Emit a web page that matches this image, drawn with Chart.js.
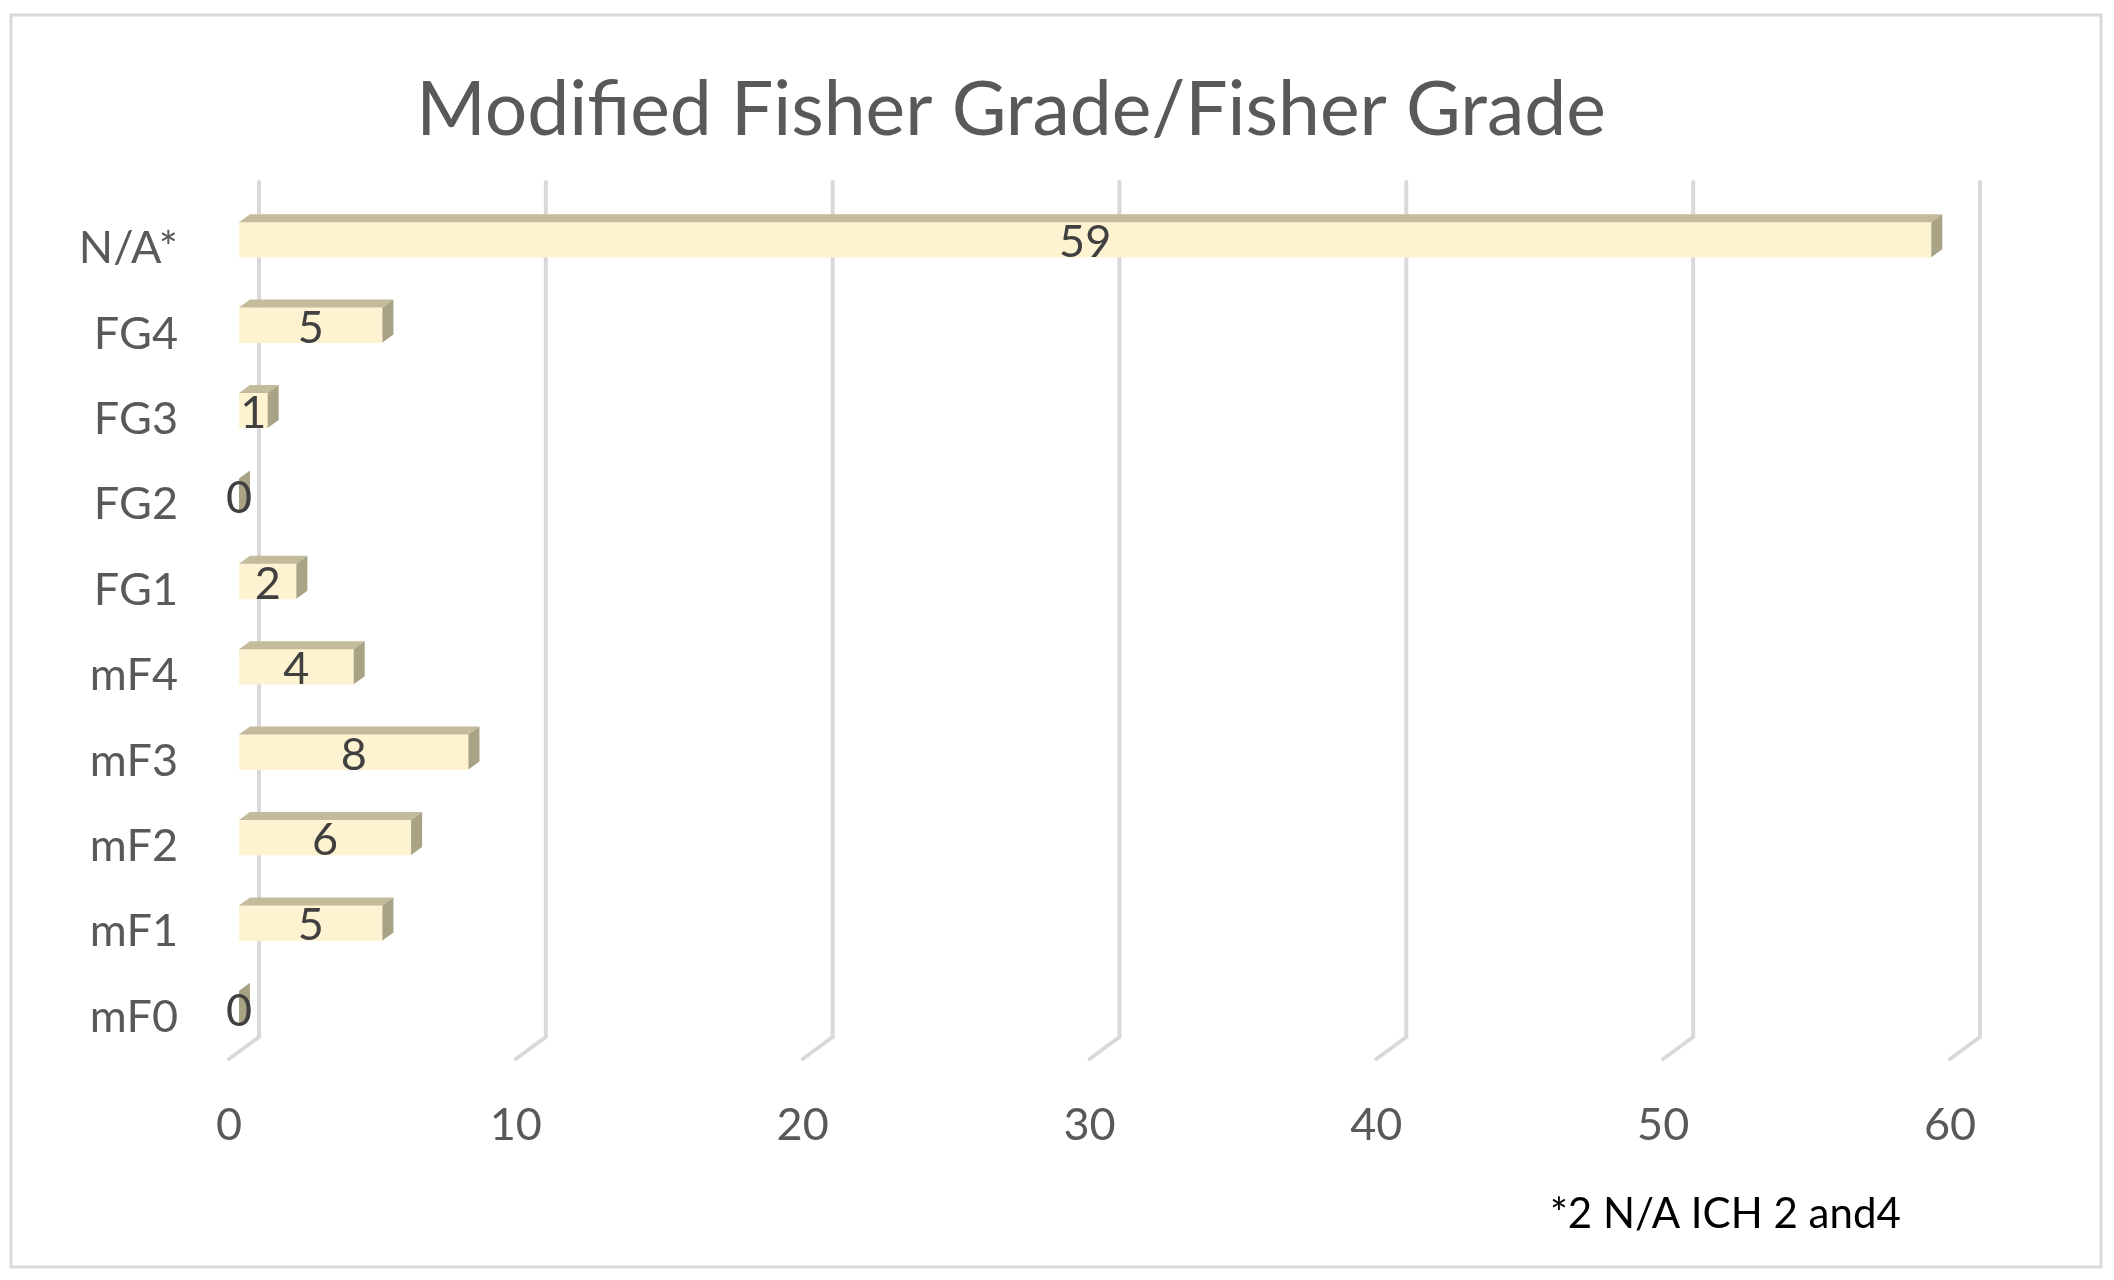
<!DOCTYPE html>
<html>
<head>
<meta charset="utf-8">
<script src="https://cdn.jsdelivr.net/npm/chart.js@4/dist/chart.umd.min.js"></script>
<style>
  html, body { margin: 0; padding: 0; background: #ffffff; }
  canvas { display: block; }
</style>
</head>
<body>
<canvas id="c" width="2114" height="1280"></canvas>
<script>
// ---- data ----
const categories = ['N/A*', 'FG4', 'FG3', 'FG2', 'FG1', 'mF4', 'mF3', 'mF2', 'mF1', 'mF0'];
const counts = [59, 5, 1, 0, 2, 4, 8, 6, 5, 0];
const xTickValues = [0, 10, 20, 30, 40, 50, 60];
const titleText = 'Modified Fisher Grade/Fisher Grade';
const footnoteText = '*2 N/A ICH 2 and4';

// ---- styles ----
const FONT = 'Lato';
const FRONT = '#FDF3D0';
const TOP = '#C3BB9C';
const SIDE = '#A9A386';
const GRID = '#D9D9D9';
const DEPTH_X = 11, DEPTH_Y = -8;

const framePlugin = {
  id: 'frame',
  beforeDraw(chart) {
    const ctx = chart.ctx;
    ctx.save();
    ctx.fillStyle = '#ffffff';
    ctx.fillRect(0, 0, chart.width, chart.height);
    ctx.strokeStyle = GRID;
    ctx.lineWidth = 3;
    ctx.strokeRect(11, 15, 2090, 1252);
    ctx.restore();
  },
  afterDraw(chart) {
    const ctx = chart.ctx;
    ctx.save();
    ctx.fillStyle = '#000000';
    ctx.font = '42px ' + FONT;
    ctx.textAlign = 'left';
    ctx.textBaseline = 'alphabetic';
    ctx.fillText(footnoteText, 1550, 1228);
    ctx.restore();
  }
};

const wallPlugin = {
  id: 'wall3d',
  beforeDatasetsDraw(chart) {
    const ctx = chart.ctx;
    const xs = chart.scales.x;
    const area = chart.chartArea;
    ctx.save();
    ctx.strokeStyle = GRID;
    ctx.lineWidth = 4;
    ctx.lineCap = 'round';
    ctx.lineJoin = 'round';
    xs.ticks.forEach(t => {
      const xf = xs.getPixelForValue(t.value);
      ctx.beginPath();
      ctx.moveTo(xf + 20, area.top - 15);
      ctx.lineTo(xf + 20, area.bottom - 14);
      ctx.lineTo(xf - 10, area.bottom + 8);
      ctx.stroke();
    });
    ctx.restore();
  }
};

const barPlugin = {
  id: 'bar3d',
  afterDatasetsDraw(chart) {
    const ctx = chart.ctx;
    const meta = chart.getDatasetMeta(0);
    ctx.save();
    meta.data.forEach((el, i) => {
      const p = el.getProps(['x', 'y', 'base', 'height'], true);
      const top = p.y - p.height / 2;
      const bot = p.y + p.height / 2;
      const x0 = Math.min(p.base, p.x), x1 = Math.max(p.base, p.x);
      if (x1 > x0) {
        ctx.fillStyle = TOP;
        ctx.beginPath();
        ctx.moveTo(x0, top);
        ctx.lineTo(x1, top);
        ctx.lineTo(x1 + DEPTH_X, top + DEPTH_Y);
        ctx.lineTo(x0 + DEPTH_X, top + DEPTH_Y);
        ctx.closePath();
        ctx.fill();
      }
      ctx.fillStyle = SIDE;
      ctx.beginPath();
      ctx.moveTo(x1, top);
      ctx.lineTo(x1 + DEPTH_X, top + DEPTH_Y);
      ctx.lineTo(x1 + DEPTH_X, bot + DEPTH_Y);
      ctx.lineTo(x1, bot);
      ctx.closePath();
      ctx.fill();
    });
    ctx.fillStyle = '#404040';
    ctx.font = '45px ' + FONT;
    ctx.textAlign = 'center';
    ctx.textBaseline = 'middle';
    meta.data.forEach((el, i) => {
      const p = el.getProps(['x', 'y', 'base'], true);
      ctx.fillText(String(counts[i]), (p.x + p.base) / 2, p.y + 3);
    });
    ctx.restore();
  }
};

new Chart(document.getElementById('c'), {
  type: 'bar',
  data: {
    labels: categories,
    datasets: [{
      data: counts,
      backgroundColor: FRONT,
      borderWidth: 0,
      barThickness: 35
    }]
  },
  options: {
    indexAxis: 'y',
    responsive: false,
    animation: false,
    devicePixelRatio: 1,
    layout: { padding: { left: 62, right: 154, top: 0, bottom: 0 } },
    plugins: {
      legend: { display: false },
      tooltip: { enabled: false },
      title: {
        display: true,
        text: titleText,
        color: '#595959',
        font: { family: FONT, size: 75, weight: 'normal', lineHeight: 1.2 },
        padding: { top: 66, bottom: 41 }
      }
    },
    scales: {
      x: {
        type: 'linear',
        min: 0,
        max: 60,
        afterBuildTicks(scale) { scale.ticks = xTickValues.map(v => ({ value: v })); },
        afterFit(scale) { scale.height = 229; },
        grid: { display: false, drawTicks: false },
        border: { display: false },
        ticks: {
          color: '#595959',
          font: { family: FONT, size: 45 },
          padding: 47,
          labelOffset: -10
        }
      },
      y: {
        type: 'category',
        afterFit(scale) { scale.width = 177; },
        grid: { display: false, drawTicks: false },
        border: { display: false },
        ticks: {
          color: '#595959',
          font: { family: FONT, size: 45 },
          padding: 61,
          labelOffset: 9
        }
      }
    }
  },
  plugins: [framePlugin, wallPlugin, barPlugin]
});
</script>
</body>
</html>
